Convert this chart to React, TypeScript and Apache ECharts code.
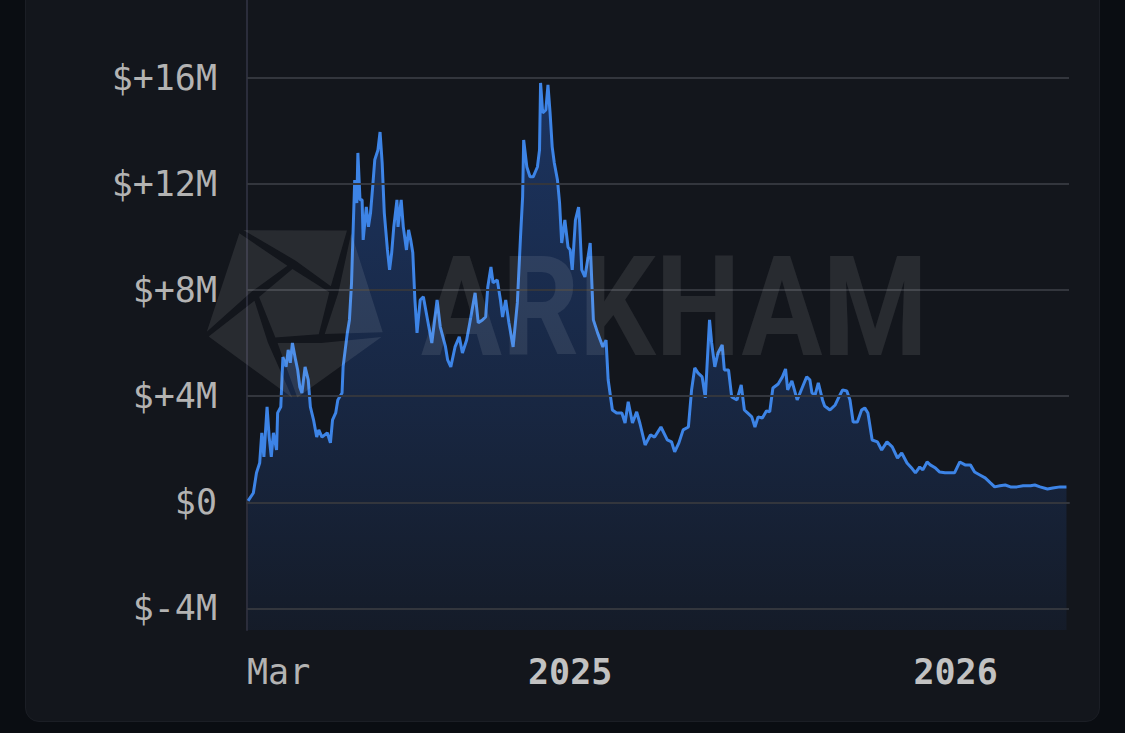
import React, { useEffect, useRef } from "react";
import * as echarts from "echarts";

// ---- data ----
const startDate = Date.UTC(2024, 2, 1); // 1 Mar 2024 = day 0
const DAY_MS = 86400000;
const axisEndDay = 778.4;

// days since 1 Mar 2024
const dayOffsets = [
  1, 6, 9, 12, 14, 16, 19, 21, 23, 25,
  28, 29, 32, 34, 37, 39, 41, 43, 46, 48,
  50, 52, 55, 58, 60, 63, 66, 68, 71, 76,
  79, 81, 84, 86, 90, 91, 95, 97, 99, 100,
  102, 104, 105, 107, 109, 110, 113, 115, 117, 119,
  121, 124, 126, 128, 130, 133, 135, 137, 139, 142,
  143, 146, 148, 151, 153, 155, 157, 159, 161, 164,
  167, 171, 175, 180, 183, 188, 190, 193, 197, 201,
  204, 208, 211, 216, 219, 223, 226, 228, 231, 233,
  237, 240, 242, 245, 248, 252, 256, 259, 261, 262,
  265, 268, 271, 275, 277, 278, 280, 283, 285, 287,
  289, 291, 294, 296, 298, 301, 304, 306, 308, 311,
  314, 315, 317, 320, 323, 325, 328, 332, 337, 340,
  342, 346, 350, 355, 358, 361, 365, 369, 372, 377,
  382, 386, 392, 398, 402, 405, 409, 413, 418, 421,
  424, 427, 431, 434, 438, 440, 443, 446, 450, 452,
  456, 459, 464, 468, 471, 474, 478, 481, 484, 488,
  492, 495, 498, 503, 507, 510, 512, 516, 521, 526,
  530, 533, 535, 538, 541, 545, 547, 552, 557, 561,
  564, 568, 571, 574, 578, 582, 585, 588, 592, 597,
  601, 606, 611, 616, 620, 625, 630, 633, 637, 640,
  644, 647, 652, 656, 661, 666, 670, 675, 680, 685,
  689, 694, 699, 704, 708, 713, 718, 723, 729, 735,
  742, 746, 751, 758, 763, 770, 776,
];

// value in $M
const valuesM = [
  0.05, 0.35, 1.11, 1.48, 2.62, 1.71, 3.6, 2.46, 1.71, 2.62,
  1.97, 3.37, 3.6, 5.48, 5.11, 5.75, 5.26, 6.01, 5.37, 4.99,
  4.35, 4.12, 5.11, 4.62, 3.6, 3.11, 2.46, 2.73, 2.46, 2.62,
  2.24, 3.11, 3.37, 3.86, 4.12, 5.11, 6.39, 6.88, 8.28, 9.63,
  12.16, 11.29, 13.18, 11.41, 11.41, 9.9, 11.14, 10.39, 10.92, 11.9,
  12.92, 13.29, 13.97, 12.8, 10.92, 9.52, 8.77, 9.41, 10.39, 11.41,
  10.39, 11.41, 10.39, 9.52, 10.28, 9.9, 9.41, 7.63, 6.39, 7.63,
  7.75, 6.88, 6.01, 7.63, 6.62, 5.86, 5.37, 5.11, 5.86, 6.24,
  5.63, 6.12, 6.77, 7.9, 6.77, 6.88, 6.99, 8.12, 8.88, 8.28,
  8.39, 7.63, 6.99, 7.63, 6.77, 5.86, 7.52, 10.01, 11.52, 13.67,
  12.65, 12.28, 12.28, 12.65, 13.29, 15.82, 14.69, 14.8, 15.75, 14.69,
  13.41, 12.8, 12.16, 11.29, 9.78, 10.65, 9.63, 9.52, 8.77, 10.65,
  11.14, 10.54, 8.77, 8.5, 9.26, 9.78, 6.88, 6.39, 5.86, 6.12,
  4.62, 3.48, 3.37, 3.37, 2.99, 3.79, 2.99, 3.41, 2.99, 2.16,
  2.54, 2.46, 2.84, 2.35, 2.28, 1.9, 2.24, 2.73, 2.84, 4.24,
  5.07, 4.88, 4.73, 3.94, 6.88, 6.01, 5.11, 5.63, 5.94, 4.99,
  4.99, 3.97, 3.86, 4.43, 3.48, 3.37, 3.22, 2.84, 3.22, 3.18,
  3.45, 3.41, 4.31, 4.46, 4.73, 5.03, 4.24, 4.58, 3.86, 4.35,
  4.73, 4.62, 4.12, 4.05, 4.5, 3.86, 3.63, 3.48, 3.67, 4.01,
  4.24, 4.2, 3.86, 3.03, 3.03, 3.48, 3.56, 3.37, 2.35, 2.28,
  1.97, 2.28, 2.09, 1.67, 1.86, 1.48, 1.26, 1.11, 1.33, 1.22,
  1.52, 1.41, 1.29, 1.14, 1.11, 1.11, 1.11, 1.52, 1.41, 1.41,
  1.14, 1.03, 0.92, 0.73, 0.58, 0.62, 0.65, 0.58, 0.58, 0.62,
  0.62, 0.65, 0.58, 0.5, 0.54, 0.58, 0.58,
];

const yTickValues = [-4, 0, 4, 8, 12, 16];
const yMin = -4.82;
const yMax = 18.95;
const xLabelDates = [Date.UTC(2024, 2, 1), Date.UTC(2025, 0, 1), Date.UTC(2026, 0, 1)];
const xLabelTexts = ["Mar", "2025", "2026"];
const xLabelBold = [false, true, true];
const watermarkText = "ARKHAM";

function fmtY(v: number): string {
  if (v === 0) return "$0";
  return v > 0 ? `$+${v}M` : `$-${-v}M`;
}

function logoPolygons() {
  const cx = 295, cy = 306, R = 96, r = 42, phi = (32 * Math.PI) / 180;
  const outer: number[][] = [];
  const inner: number[][] = [];
  for (let k = 0; k < 5; k++) {
    const t = Math.PI / 2 + (k * 2 * Math.PI) / 5;
    outer.push([cx + R * Math.cos(t), cy + R * Math.sin(t)]);
    inner.push([cx + r * Math.cos(t + phi), cy + r * Math.sin(t + phi)]);
  }
  const shrink = (pts: number[][], d: number) => {
    const mx = pts.reduce((s, p) => s + p[0], 0) / pts.length;
    const my = pts.reduce((s, p) => s + p[1], 0) / pts.length;
    return pts.map(([x, y]) => {
      const dx = mx - x, dy = my - y;
      const L = Math.hypot(dx, dy) || 1;
      return [x + (dx / L) * d, y + (dy / L) * d];
    });
  };
  const polys: number[][][] = [];
  for (let k = 0; k < 5; k++) {
    const k1 = (k + 1) % 5;
    polys.push(shrink([outer[k], outer[k1], inner[k1], inner[k]], 5));
  }
  polys.push(shrink(inner, 5));
  return polys;
}

export default function App() {
  const ref = useRef<HTMLDivElement>(null);

  useEffect(() => {
    if (!ref.current) return;
    const chart = echarts.init(ref.current, undefined, { renderer: "svg" });

    const seriesData = dayOffsets.map((d, i) => [d, valuesM[i]]);
    const xLabelDays = xLabelDates.map((t) => Math.round((t - startDate) / DAY_MS));
    const wmColor = "rgba(255,255,255,0.09)";

    const graphics: any[] = logoPolygons().map((pts) => ({
      type: "polygon",
      z: 100,
      silent: true,
      shape: { points: pts },
      style: { fill: wmColor },
    }));
    graphics.push({
      type: "group",
      x: 421,
      y: 307,
      scaleX: 0.86,
      z: 100,
      silent: true,
      children: [
        {
          type: "text",
          x: 0,
          y: 0,
          z: 100,
          style: {
            text: watermarkText,
            fill: wmColor,
            fontFamily: "Roboto",
            fontWeight: "bold",
            fontSize: 140,
            textAlign: "left",
            textVerticalAlign: "middle",
          },
        },
      ],
    });

    const labelFont = "DejaVu Sans Mono";

    chart.setOption({
      animation: false,
      backgroundColor: "transparent",
      grid: { left: 247, right: 56, top: 0, bottom: 103 },
      xAxis: {
        type: "value",
        min: 0,
        max: axisEndDay,
        axisLine: { show: true, lineStyle: { color: "#33363d", width: 2 } },
        axisTick: { show: false },
        splitLine: { show: false },
        axisLabel: {
          customValues: xLabelDays,
          alignMinLabel: "left",
          formatter: (v: number) => {
            const i = xLabelDays.indexOf(v);
            if (i < 0) return "";
            return xLabelBold[i] ? `{b|${xLabelTexts[i]}}` : xLabelTexts[i];
          },
          color: "#b3b3b3",
          fontFamily: labelFont,
          fontSize: 35,
          margin: 24,
          rich: {
            b: { color: "#c2c2c2", fontFamily: labelFont, fontSize: 35, fontWeight: 600 },
          },
        },
      },
      yAxis: {
        type: "value",
        min: yMin,
        max: yMax,
        axisLine: { show: true, lineStyle: { color: "#2b2d3b", width: 2 } },
        axisTick: { show: false },
        splitLine: { show: false },
        axisLabel: {
          customValues: yTickValues,
          formatter: (v: number) => fmtY(v),
          color: "#b3b3b3",
          fontFamily: labelFont,
          fontSize: 35,
          margin: 30,
        },
      },
      series: [
        {
          type: "line",
          data: [],
          z: 1,
          silent: true,
          markLine: {
            silent: true,
            symbol: "none",
            label: { show: false },
            lineStyle: { color: "#33363d", width: 2, type: "solid" },
            data: yTickValues.map((v) => ({ yAxis: v })),
          },
        },
        {
          type: "line",
          data: seriesData,
          z: 3,
          showSymbol: false,
          symbol: "none",
          lineStyle: { color: "#3d84e6", width: 3 },
          areaStyle: {
            origin: "start",
            color: new echarts.graphic.LinearGradient(0, 0, 0, 1, [
              { offset: 0, color: "rgba(42,100,205,0.55)" },
              { offset: 0.6, color: "rgba(42,100,205,0.3)" },
              { offset: 1, color: "rgba(42,100,205,0.1)" },
            ]),
          },
        },
      ],
      graphic: graphics,
    });

    return () => chart.dispose();
  }, []);

  return (
    <div
      style={{
        position: "fixed",
        left: 0,
        top: 0,
        width: 1125,
        height: 733,
        overflow: "hidden",
        background: "#0a0d12",
      }}
    >
      <div
        style={{
          position: "absolute",
          left: 25,
          top: -20,
          width: 1075,
          height: 742,
          borderRadius: 14,
          background: "#13161c",
          border: "1px solid #1b1e25",
          boxSizing: "border-box",
        }}
      />
      <div ref={ref} style={{ position: "absolute", left: 0, top: 0, width: 1125, height: 733 }} />
    </div>
  );
}
